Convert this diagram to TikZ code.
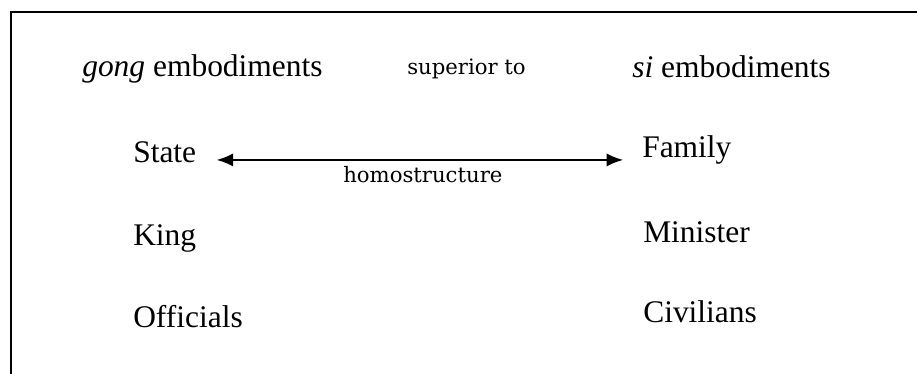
\documentclass[tikz,border=0pt]{standalone}
\usepackage{fontspec}
\setmainfont{Liberation Serif}
\newfontfamily\notefont{DejaVu Serif}
\usetikzlibrary{arrows.meta}

\tikzset{
  item/.style={anchor=base west, inner sep=0pt, font=\fontsize{23.6}{28}\selectfont},
  note/.style={anchor=base west, inner sep=0pt, font=\notefont\fontsize{15.9}{19}\selectfont},
  biarrow/.style={line width=1.8, {Latex[length=12.5pt,width=10pt]}-{Latex[length=12.5pt,width=10pt]}},
}

\begin{document}
\begin{tikzpicture}[x=0.75pt,y=0.75pt,yscale=-1]
\useasboundingbox (0,0) rectangle (917,374);

%Frame: top and left edges
\draw [line width=1.5] (917,12) -- (11,12) -- (11,374) ;

% Text Node
\node [item] (gong) at (82,77) {\textit{gong} embodiments};
% Text Node
\node [note] (superior) at (407,75) {superior to};
% Text Node
\node [item] (si) at (632,78) {\textit{si} embodiments};

% Text Node
\node [item] (state) at (133,162) {State};
% Text Node
\node [item] (king) at (133,245) {King};
% Text Node
\node [item] (officials) at (133,327) {Officials};

% Text Node
\node [item] (family) at (642,157) {Family};
% Text Node
\node [item] (minister) at (643,242) {Minister};
% Text Node
\node [item] (civilians) at (643,322) {Civilians};

%Straight Lines: homostructure
\draw [biarrow, shorten <=15pt, shorten >=14pt] ([yshift=0.75pt]state.mid east) -- ([yshift=0.75pt]state.mid east -| family.west) ;
% Text Node
\node [note] (homo) at (343,183) {homostructure};
\end{tikzpicture}
\end{document}
